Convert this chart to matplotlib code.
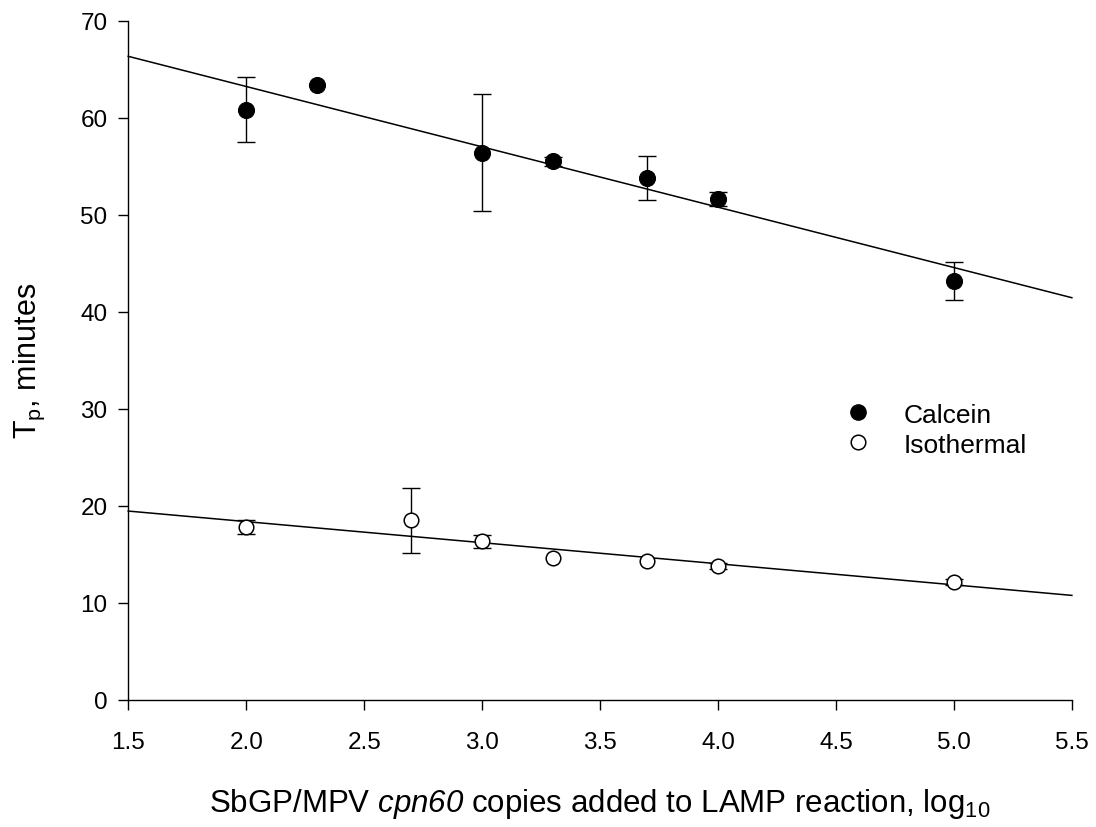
import matplotlib
matplotlib.use('Agg')
import matplotlib.pyplot as plt
import numpy as np
from matplotlib.lines import Line2D

plt.rcParams['font.family'] = ['Liberation Sans', 'DejaVu Sans']
plt.rcParams['mathtext.fontset'] = 'custom'
plt.rcParams['mathtext.rm'] = 'Liberation Sans'
plt.rcParams['mathtext.it'] = 'Liberation Sans:italic'
plt.rcParams['mathtext.sf'] = 'Liberation Sans:italic'

# Data
calcein_x = [2.0, 2.3, 3.0, 3.3, 3.7, 4.0, 5.0]
calcein_y = [60.8, 63.4, 56.4, 55.5, 53.8, 51.6, 43.2]
calcein_err = [3.35, np.nan, 6.0, 0.5, 2.3, 0.7, 1.95]

iso_x = [2.0, 2.7, 3.0, 3.3, 3.7, 4.0, 5.0]
iso_y = [17.8, 18.5, 16.35, 14.6, 14.35, 13.8, 12.2]
iso_err = [0.7, 3.35, 0.7, np.nan, np.nan, 0.3, 0.3]

x_ticks = [1.5, 2.0, 2.5, 3.0, 3.5, 4.0, 4.5, 5.0, 5.5]
y_ticks = [0, 10, 20, 30, 40, 50, 60, 70]
series_labels = ['Calcein', 'Isothermal']

fig = plt.figure(figsize=(10.96, 8.28), dpi=100)
ax = fig.add_axes([0.117, 0.1534, 0.861, 0.8204])

xfit = np.array([x_ticks[0], x_ticks[-1]])
for xs, ys in [(calcein_x, calcein_y), (iso_x, iso_y)]:
    k, b = np.polyfit(xs, ys, 1)
    ax.plot(xfit, k * xfit + b, color='black', lw=1.1, zorder=2, clip_on=False)

ax.errorbar(calcein_x, calcein_y, yerr=calcein_err, fmt='none', ecolor='black',
            elinewidth=1.0, capsize=6.7, capthick=1.0, zorder=3)
ax.errorbar(iso_x, iso_y, yerr=iso_err, fmt='none', ecolor='black',
            elinewidth=1.0, capsize=6.7, capthick=1.0, zorder=3)
ax.plot(calcein_x, calcein_y, 'o', ms=11.5, mfc='black', mec='black', mew=0.8, zorder=4)
ax.plot(iso_x, iso_y, 'o', ms=10.5, mfc='white', mec='black', mew=1.1, zorder=4)

ax.set_xlim(x_ticks[0], x_ticks[-1])
ax.set_ylim(y_ticks[0], y_ticks[-1])
ax.set_xticks(x_ticks)
ax.set_xticklabels([f'{v:.1f}' for v in x_ticks])
ax.set_yticks(y_ticks)
ax.set_yticklabels([str(v) for v in y_ticks])
ax.spines['top'].set_visible(False)
ax.spines['right'].set_visible(False)
for s in ['left', 'bottom']:
    ax.spines[s].set_linewidth(1.0)
ax.tick_params(direction='out', length=7, width=1.0, labelsize=17.5)
ax.tick_params(axis='y', pad=8)
ax.tick_params(axis='x', pad=15)

ax.set_xlabel(r'SbGP/MPV $\mathsf{cpn60}$ copies added to LAMP reaction, log$_{\mathrm{10}}$',
              fontsize=22.5, labelpad=24)
ax.set_ylabel(r'T$_{\mathrm{p}}$, minutes', fontsize=22, labelpad=24)

handles = [Line2D([], [], ls='none', marker='o', ms=11, mfc='black', mec='black'),
           Line2D([], [], ls='none', marker='o', ms=10.5, mfc='white', mec='black', mew=1.1)]
ax.legend(handles, series_labels, frameon=False, fontsize=19, loc='center left',
          bbox_to_anchor=(0.72, 0.398), handletextpad=0.73, labelspacing=0.22)

fig.savefig('out.png', dpi=100)
